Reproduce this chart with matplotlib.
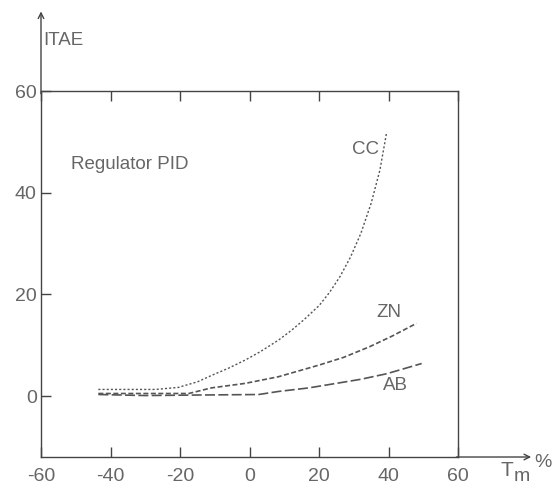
import matplotlib
matplotlib.use("Agg")
import matplotlib.pyplot as plt

# ---- data ----
cc_x = [-43.5, -27, -20.5, -15, -10.8, -6, -1.2, 3, 8.3, 12, 15.6, 20, 23, 26, 29, 32, 35, 37.5, 39.4]
cc_y = [1.3, 1.3, 1.7, 2.8, 4.1, 5.5, 7.1, 8.7, 11.0, 12.9, 15.0, 17.8, 20.4, 23.5, 27.3, 32.0, 38.0, 44.5, 51.8]
zn_x = [-43.5, -17.5, -11, -1.2, 8.3, 20, 27, 34.5, 41, 48]
zn_y = [0.5, 0.5, 1.6, 2.5, 3.8, 6.1, 7.6, 9.7, 11.8, 14.3]
ab_x = [-43.5, -30, -15, 2.6, 8.3, 17, 25, 32, 39.5, 49.5]
ab_y = [0.3, 0.1, 0.2, 0.3, 0.9, 1.6, 2.5, 3.3, 4.4, 6.4]
xticks = [-60, -40, -20, 0, 20, 40, 60]
yticks = [0, 20, 40, 60]
curve_labels = ["CC", "ZN", "AB"]

plt.rcParams['font.family'] = ["Liberation Sans", "DejaVu Sans"]

fig = plt.figure(figsize=(5.54, 4.93), dpi=100)
ax = fig.add_axes([0.074, 0.073, 0.753, 0.742])
ax.set_xlim(-60, 60)
ax.set_ylim(-12, 60)

axc = "#444444"
tc = "#666666"
for s in ax.spines.values():
    s.set_color(axc)
    s.set_linewidth(1.0)

ax.set_xticks(xticks)
ax.set_xticklabels([str(v) for v in xticks])
ax.set_yticks(yticks)
ax.set_yticklabels([str(v) for v in yticks])
ax.tick_params(axis='x', direction='in', top=True, length=7, width=1, color=axc,
               labelsize=14, labelcolor=tc, pad=8)
ax.tick_params(axis='y', direction='in', length=7, width=1, color=axc,
               labelsize=14, labelcolor=tc, pad=3)

lc = "#555555"
ax.plot(cc_x, cc_y, color=lc, lw=1.0, linestyle=(0, (1.5, 1.5)))
ax.plot(zn_x, zn_y, color=lc, lw=1.2, linestyle=(0, (3, 1.5)))
ax.plot(ab_x, ab_y, color=lc, lw=1.2, linestyle=(0, (6, 2)))

# axis arrows
ax.annotate("", xy=(81, -12), xytext=(59.5, -12), annotation_clip=False,
            arrowprops=dict(arrowstyle="->", color=axc, lw=1.0, shrinkA=0, shrinkB=0))
ax.annotate("", xy=(-60, 75.7), xytext=(-60, 59.5), annotation_clip=False,
            arrowprops=dict(arrowstyle="->", color=axc, lw=1.0, shrinkA=0, shrinkB=0))

ax.text(-59.3, 70, "ITAE", fontsize=13.5, color=tc, ha="left", va="center", clip_on=False)
ax.text(-51.5, 45.5, "Regulator PID", fontsize=13.5, color=tc, ha="left", va="center")
ax.text(29.5, 48.5, curve_labels[0], fontsize=13.5, color=tc, ha="left", va="center")
ax.text(36.5, 16.5, curve_labels[1], fontsize=13.5, color=tc, ha="left", va="center")
ax.text(38.5, 2.0, curve_labels[2], fontsize=13.5, color=tc, ha="left", va="center")

ax.text(74, -14.6, "T", fontsize=15, color=tc, ha="center", va="center", clip_on=False)
ax.text(78.4, -15.8, "m", fontsize=14, color=tc, ha="center", va="center", clip_on=False)
ax.text(84.5, -13.0, "%", fontsize=14, color=tc, ha="center", va="center", clip_on=False)

fig.savefig("out.png", dpi=100)
